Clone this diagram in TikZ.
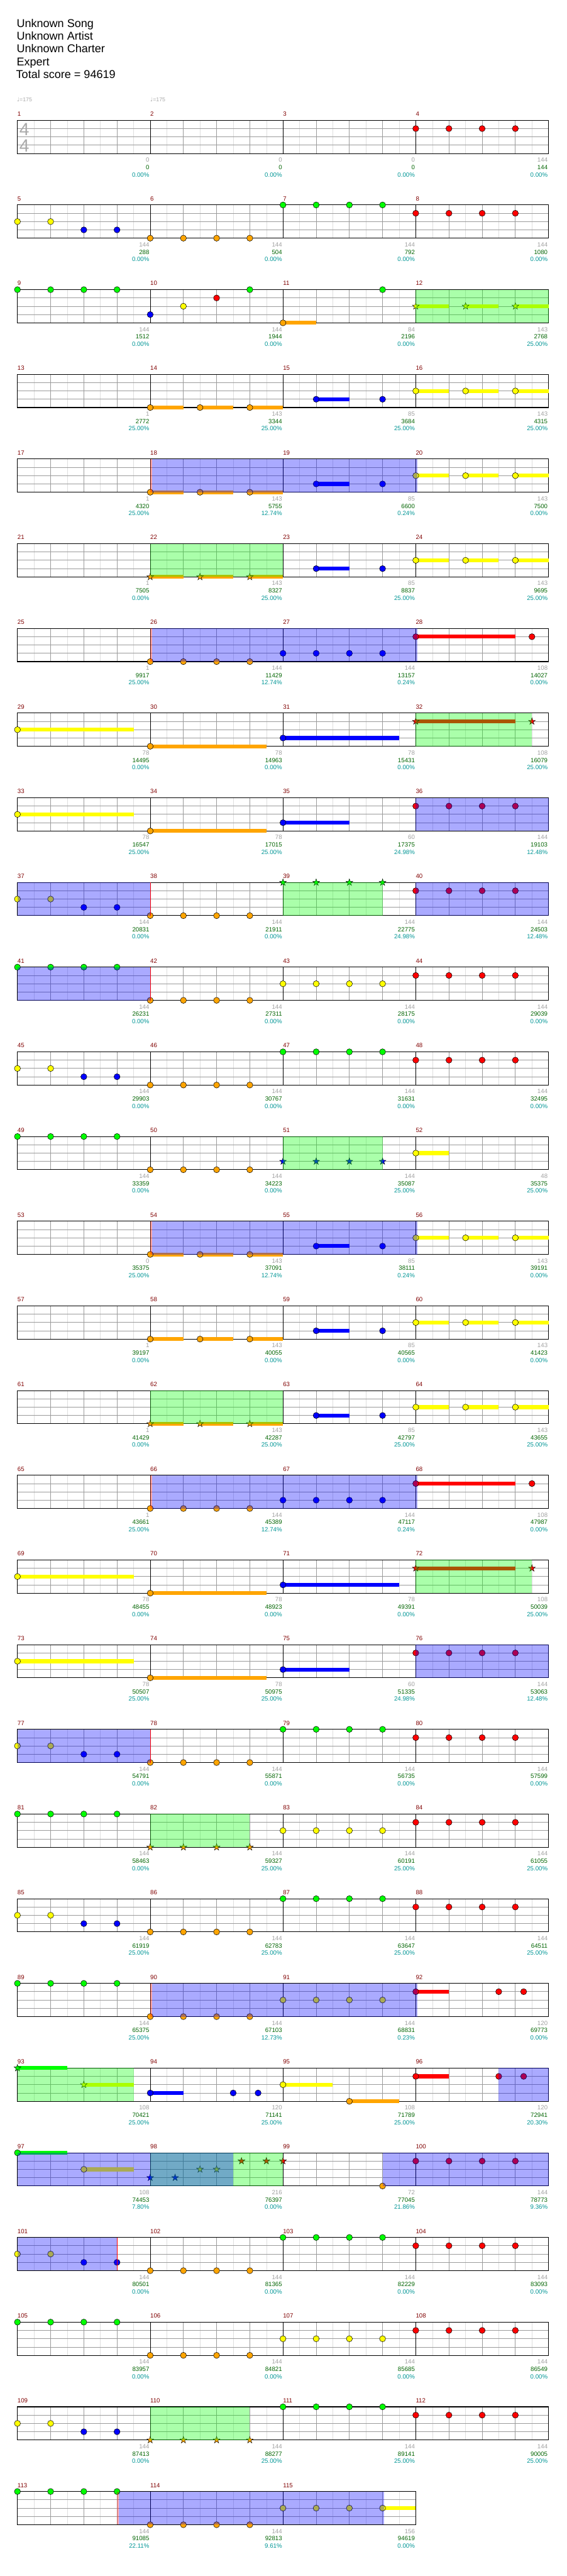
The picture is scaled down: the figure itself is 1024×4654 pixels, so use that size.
\documentclass[tikz,border=0pt]{standalone}
\usepackage{fontspec}
\setmainfont{Liberation Sans}
\newfontfamily\djv{DejaVu Sans}
\usetikzlibrary{shapes.geometric}
\definecolor{ng}{RGB}{0,255,0}
\definecolor{nr}{RGB}{255,0,0}
\definecolor{ny}{RGB}{255,255,0}
\definecolor{nb}{RGB}{0,0,255}
\definecolor{no}{RGB}{255,165,0}
\definecolor{gridg}{RGB}{155,155,155}
\definecolor{gridl}{RGB}{222,222,222}
\definecolor{mnumc}{RGB}{128,0,0}
\definecolor{txgray}{RGB}{160,160,160}
\definecolor{txgreen}{RGB}{0,100,0}
\definecolor{txteal}{RGB}{0,150,150}
\definecolor{sigc}{RGB}{170,170,170}
\newcounter{nc}
\tikzset{
  notec/.style={circle, draw=black, line width=0.6, inner sep=0, minimum size=11},
  notes/.style={star, star points=5, star point ratio=2.6, draw=black, line width=0.5, inner sep=0, minimum size=13},
  mnum/.style={anchor=base west, inner sep=0, text=mnumc, font=\fontsize{11}{11}\selectfont},
  lg/.style={anchor=base east, inner sep=0, text=txgray, font=\fontsize{11}{11}\selectfont},
  lgr/.style={anchor=base east, inner sep=0, text=txgreen, font=\fontsize{11}{11}\selectfont},
  lt/.style={anchor=base east, inner sep=0, text=txteal, font=\fontsize{11}{11}\selectfont},
  titl/.style={anchor=base west, inner sep=0, font=\fontsize{20.5}{20.5}\selectfont},
  tempo/.style={anchor=base west, inner sep=0, text=sigc, font=\fontsize{10}{10}\selectfont},
  tsig/.style={anchor=base west, inner sep=0, text=sigc, font=\fontsize{32}{32}\selectfont},
  spfill/.style={fill=ng, opacity=0.333},
  actfill/.style={fill=nb, opacity=0.333},
}
% row grid: #1 row, #2 number of measures
\newcommand\rowgrid[2]{%
  \pgfmathtruncatemacro\rgNB{4*#2}%
  \pgfmathtruncatemacro\rgNBm{4*#2-1}%
  \pgfmathtruncatemacro\rgNM{#2-1}%
  \foreach \k in {1,...,\rgNB} {\draw[gridl, line width=0.6] ({31.5+60*\k-30},{217.3+153*#1}) -- ++(0,60);}
  \foreach \k in {1,...,\rgNBm} {\draw[gridg, line width=0.8] ({31.5+60*\k},{217.3+153*#1}) -- ++(0,60);}
  \foreach \l in {1,2,3} {\draw[gridg, line width=1] (31.5,{217.3+153*#1+15*\l}) -- ({31.5+60*\rgNB},{217.3+153*#1+15*\l});}
  \foreach \k in {1,...,\rgNM} {\draw[black, line width=0.8] ({31.5+240*\k},{217.3+153*#1}) -- ++(0,60);}
  \draw[black, line width=1.2] (31.5,{217.3+153*#1}) rectangle ({31.5+60*\rgNB},{217.3+153*#1+60});
  \foreach \c in {0,...,\rgNM} {\pgfmathtruncatemacro\rgMM{4*#1+\c+1}%
    \node[mnum] (m\rgMM) at ({31.5+240*\c},{217.3+153*#1-7.5}) {\rgMM};}
}
\newcommand\labrow[2]{\foreach \la/\lb/\lc [count=\li from 0] in {#2} {
  \node[lg] (la-#1-\li) at ({31.5+240*\li+238.5},{217.3+153*#1+75.5}) {\la};
  \node[lgr] (lb-#1-\li) at ({31.5+240*\li+238.5},{217.3+153*#1+88.8}) {\lb};
  \node[lt] (lc-#1-\li) at ({31.5+240*\li+238.5},{217.3+153*#1+102}) {\lc\%};
}}
\newcommand\cnote[4]{\stepcounter{nc}\node[notec, fill=#4] (n\arabic{nc}) at ({31.5+60*(#2)},{217.3+153*#1+15*#3}) {};}
\newcommand\snote[4]{\stepcounter{nc}\node[notes, fill=#4] (n\arabic{nc}) at ({31.5+60*(#2)},{217.3+153*#1+15*#3}) {};}
\newcommand\csus[5]{\fill[#5] ({31.5+60*(#2)},{217.3+153*#1+15*#4-3.5}) rectangle ({31.5+60*(#3)},{217.3+153*#1+15*#4+3.5});}
\newcommand\spreg[3]{\fill[spfill] ({31.5+60*(#2)},{217.3+153*#1}) rectangle ({31.5+60*(#3)},{217.3+153*#1+60});}
\newcommand\actreg[3]{\fill[actfill] ({31.5+60*(#2)},{217.3+153*#1}) rectangle ({31.5+60*(#3)},{217.3+153*#1+60});}
\newcommand\actstart[2]{\fill[nr, opacity=0.333] ({31.5+60*(#2)},{217.3+153*#1}) rectangle ({31.5+60*(#2)+3},{217.3+153*#1+60});}
\newcommand\actend[2]{\draw[nr, line width=0.8] ({31.5+60*(#2)},{217.3+153*#1}) -- ({31.5+60*(#2)},{217.3+153*#1+60});}
\newcommand\fourn[4]{\foreach \q in {0,1,2,3} {\cnote{#1}{#2+\q}{#3}{#4}}}
\newcommand\fours[4]{\foreach \q in {0,1,2,3} {\snote{#1}{#2+\q}{#3}{#4}}}
\newcommand\yybb[2]{\cnote{#1}{#2}{2}{ny}\cnote{#1}{#2+1}{2}{ny}\cnote{#1}{#2+2}{3}{nb}\cnote{#1}{#2+3}{3}{nb}}
\newcommand\tripc[4]{\foreach \q in {0,1.5,3} {\csus{#1}{#2+\q}{#2+\q+1}{#3}{#4}\cnote{#1}{#2+\q}{#3}{#4}}}
\newcommand\trips[4]{\foreach \q in {0,1.5,3} {\csus{#1}{#2+\q}{#2+\q+1}{#3}{#4}\snote{#1}{#2+\q}{#3}{#4}}}
\newcommand\bluepair[1]{\csus{#1}{9}{10}{3}{nb}\cnote{#1}{9}{3}{nb}\cnote{#1}{11}{3}{nb}}
\newcommand\patA[1]{\tripc{#1}{4}{4}{no}\bluepair{#1}\tripc{#1}{12}{2}{ny}}
\newcommand\patAs[1]{\trips{#1}{4}{4}{no}\bluepair{#1}\tripc{#1}{12}{2}{ny}\spreg{#1}{4}{8}}
\newcommand\patB[1]{\fourn{#1}{4}{4}{no}\fourn{#1}{8}{3}{nb}\csus{#1}{12}{15}{1}{nr}\cnote{#1}{12}{1}{nr}\cnote{#1}{15.5}{1}{nr}\actstart{#1}{4}\actreg{#1}{4.05}{12.05}}
\newcommand\patC[1]{\csus{#1}{0}{3.5}{2}{ny}\cnote{#1}{0}{2}{ny}\csus{#1}{4}{7.5}{4}{no}\cnote{#1}{4}{4}{no}\csus{#1}{8}{11.5}{3}{nb}\cnote{#1}{8}{3}{nb}\csus{#1}{12}{15}{1}{nr}\snote{#1}{12}{1}{nr}\snote{#1}{15.5}{1}{nr}\spreg{#1}{12}{15.5}}
\newcommand\patD[1]{\csus{#1}{0}{3.5}{2}{ny}\cnote{#1}{0}{2}{ny}\csus{#1}{4}{7.5}{4}{no}\cnote{#1}{4}{4}{no}\csus{#1}{8}{10}{3}{nb}\cnote{#1}{8}{3}{nb}\fourn{#1}{12}{1}{nr}\actreg{#1}{12}{16}}
\begin{document}
\begin{tikzpicture}[x=1pt, y=-1pt]
\useasboundingbox (0,0) rectangle (1024,4654);
\fill[white] (0,0) rectangle (1024,4654);
% header
\node[titl] (t1) at (30,49.3) {Unknown Song};
\node[titl] (t2) at (30,72.3) {Unknown Artist};
\node[titl] (t3) at (30,95.3) {Unknown Charter};
\node[titl] (t4) at (30,118.3) {Expert};
\node[titl] (t5) at (29,141.5) {Total score = 94619};
\node[tempo] (tp1) at (30.5,183.3) {{\djv ♩}=175};
\node[tempo] (tp2) at (271.5,183.3) {{\djv ♩}=175};
% row 0
\rowgrid{0}{4}
\node[tsig] (ts1) at (35,245.3) {4};
\node[tsig] (ts2) at (35,274.3) {4};
\fourn{0}{12}{1}{nr}
\labrow{0}{0/0/0.00, 0/0/0.00, 0/0/0.00, 144/144/0.00}
% row 1
\rowgrid{1}{4}
\yybb{1}{0}\fourn{1}{4}{4}{no}\fourn{1}{8}{0}{ng}\fourn{1}{12}{1}{nr}
\labrow{1}{144/288/0.00, 144/504/0.00, 144/792/0.00, 144/1080/0.00}
% row 2
\rowgrid{2}{4}
\fourn{2}{0}{0}{ng}\cnote{2}{4}{3}{nb}\cnote{2}{5}{2}{ny}\cnote{2}{6}{1}{nr}\cnote{2}{7}{0}{ng}
\csus{2}{8}{9}{4}{no}\cnote{2}{8}{4}{no}\cnote{2}{11}{0}{ng}
\trips{2}{12}{2}{ny}\spreg{2}{12}{16}
\labrow{2}{144/1512/0.00, 144/1944/0.00, 84/2196/0.00, 143/2768/25.00}
% row 3
\rowgrid{3}{4}
\patA{3}
\labrow{3}{1/2772/25.00, 143/3344/25.00, 85/3684/25.00, 143/4315/25.00}
% row 4
\rowgrid{4}{4}
\patA{4}\actstart{4}{4}\actreg{4}{4.05}{12.05}
\labrow{4}{1/4320/25.00, 143/5755/12.74, 85/6600/0.24, 143/7500/0.00}
% row 5
\rowgrid{5}{4}
\patAs{5}
\labrow{5}{1/7505/0.00, 143/8327/25.00, 85/8837/25.00, 143/9695/25.00}
% row 6
\rowgrid{6}{4}
\patB{6}
\labrow{6}{1/9917/25.00, 144/11429/12.74, 144/13157/0.24, 108/14027/0.00}
% row 7
\rowgrid{7}{4}
\patC{7}
\labrow{7}{78/14495/0.00, 78/14963/0.00, 78/15431/0.00, 108/16079/25.00}
% row 8
\rowgrid{8}{4}
\patD{8}
\labrow{8}{78/16547/25.00, 78/17015/25.00, 60/17375/24.98, 144/19103/12.48}
% row 9
\rowgrid{9}{4}
\yybb{9}{0}\fourn{9}{4}{4}{no}\fours{9}{8}{0}{ng}\fourn{9}{12}{1}{nr}
\actreg{9}{0}{4}\actend{9}{4}\spreg{9}{8}{11}\actreg{9}{12}{16}
\labrow{9}{144/20831/0.00, 144/21911/0.00, 144/22775/24.98, 144/24503/12.48}
% row 10
\rowgrid{10}{4}
\fourn{10}{0}{0}{ng}\fourn{10}{4}{4}{no}\fourn{10}{8}{2}{ny}\fourn{10}{12}{1}{nr}
\actreg{10}{0}{4}\actend{10}{4}
\labrow{10}{144/26231/0.00, 144/27311/0.00, 144/28175/0.00, 144/29039/0.00}
% row 11
\rowgrid{11}{4}
\yybb{11}{0}\fourn{11}{4}{4}{no}\fourn{11}{8}{0}{ng}\fourn{11}{12}{1}{nr}
\labrow{11}{144/29903/0.00, 144/30767/0.00, 144/31631/0.00, 144/32495/0.00}
% row 12
\rowgrid{12}{4}
\fourn{12}{0}{0}{ng}\fourn{12}{4}{4}{no}\fours{12}{8}{3}{nb}\csus{12}{12}{13}{2}{ny}\cnote{12}{12}{2}{ny}
\spreg{12}{8}{11}
\labrow{12}{144/33359/0.00, 144/34223/0.00, 144/35087/25.00, 48/35375/25.00}
% row 13
\rowgrid{13}{4}
\patA{13}\actstart{13}{4}\actreg{13}{4.05}{12.05}
\labrow{13}{0/35375/25.00, 143/37091/12.74, 85/38111/0.24, 143/39191/0.00}
% row 14
\rowgrid{14}{4}
\patA{14}
\labrow{14}{1/39197/0.00, 143/40055/0.00, 85/40565/0.00, 143/41423/0.00}
% row 15
\rowgrid{15}{4}
\patAs{15}
\labrow{15}{1/41429/0.00, 143/42287/25.00, 85/42797/25.00, 143/43655/25.00}
% row 16
\rowgrid{16}{4}
\patB{16}
\labrow{16}{1/43661/25.00, 144/45389/12.74, 144/47117/0.24, 108/47987/0.00}
% row 17
\rowgrid{17}{4}
\patC{17}
\labrow{17}{78/48455/0.00, 78/48923/0.00, 78/49391/0.00, 108/50039/25.00}
% row 18
\rowgrid{18}{4}
\patD{18}
\labrow{18}{78/50507/25.00, 78/50975/25.00, 60/51335/24.98, 144/53063/12.48}
% row 19
\rowgrid{19}{4}
\yybb{19}{0}\fourn{19}{4}{4}{no}\fourn{19}{8}{0}{ng}\fourn{19}{12}{1}{nr}
\actreg{19}{0}{4}\actend{19}{4}
\labrow{19}{144/54791/0.00, 144/55871/0.00, 144/56735/0.00, 144/57599/0.00}
% row 20
\rowgrid{20}{4}
\fourn{20}{0}{0}{ng}\fours{20}{4}{4}{no}\fourn{20}{8}{2}{ny}\fourn{20}{12}{1}{nr}
\spreg{20}{4}{7}
\labrow{20}{144/58463/0.00, 144/59327/25.00, 144/60191/25.00, 144/61055/25.00}
% row 21
\rowgrid{21}{4}
\yybb{21}{0}\fourn{21}{4}{4}{no}\fourn{21}{8}{0}{ng}\fourn{21}{12}{1}{nr}
\labrow{21}{144/61919/25.00, 144/62783/25.00, 144/63647/25.00, 144/64511/25.00}
% row 22
\rowgrid{22}{4}
\fourn{22}{0}{0}{ng}\fourn{22}{4}{4}{no}\fourn{22}{8}{2}{ny}
\csus{22}{12}{13}{1}{nr}\cnote{22}{12}{1}{nr}\cnote{22}{14.5}{1}{nr}\cnote{22}{15.25}{1}{nr}
\actstart{22}{4}\actreg{22}{4.05}{12.05}
\labrow{22}{144/65375/25.00, 144/67103/12.73, 144/68831/0.23, 120/69773/0.00}
% row 23
\rowgrid{23}{4}
\csus{23}{0}{1.5}{0}{ng}\snote{23}{0}{0}{ng}
\csus{23}{2}{3.5}{2}{ny}\snote{23}{2}{2}{ny}
\csus{23}{4}{5}{3}{nb}\cnote{23}{4}{3}{nb}\cnote{23}{6.5}{3}{nb}\cnote{23}{7.25}{3}{nb}
\csus{23}{8}{9.5}{2}{ny}\cnote{23}{8}{2}{ny}
\csus{23}{10}{11.5}{4}{no}\cnote{23}{10}{4}{no}
\csus{23}{12}{13}{1}{nr}\cnote{23}{12}{1}{nr}\cnote{23}{14.5}{1}{nr}\cnote{23}{15.25}{1}{nr}
\spreg{23}{0}{3.5}\actreg{23}{14.5}{16}
\labrow{23}{108/70421/25.00, 120/71141/25.00, 108/71789/25.00, 120/72941/20.30}
% row 24
\rowgrid{24}{4}
\csus{24}{0}{1.5}{0}{ng}\cnote{24}{0}{0}{ng}
\csus{24}{2}{3.5}{2}{ny}\cnote{24}{2}{2}{ny}
\snote{24}{4}{3}{nb}\snote{24}{4.75}{3}{nb}\snote{24}{5.5}{2}{ny}\snote{24}{6}{2}{ny}
\snote{24}{6.75}{1}{nr}\snote{24}{7.5}{1}{nr}\snote{24}{8}{1}{nr}
\cnote{24}{11}{4}{no}\fourn{24}{12}{1}{nr}
\spreg{24}{4}{8}\actreg{24}{0}{6.5}\actreg{24}{11}{16}
\labrow{24}{108/74453/7.80, 216/76397/0.00, 72/77045/21.86, 144/78773/9.36}
% row 25
\rowgrid{25}{4}
\yybb{25}{0}\fourn{25}{4}{4}{no}\fourn{25}{8}{0}{ng}\fourn{25}{12}{1}{nr}
\actreg{25}{0}{3}\actend{25}{3}
\labrow{25}{144/80501/0.00, 144/81365/0.00, 144/82229/0.00, 144/83093/0.00}
% row 26
\rowgrid{26}{4}
\fourn{26}{0}{0}{ng}\fourn{26}{4}{4}{no}\fourn{26}{8}{2}{ny}\fourn{26}{12}{1}{nr}
\labrow{26}{144/83957/0.00, 144/84821/0.00, 144/85685/0.00, 144/86549/0.00}
% row 27
\rowgrid{27}{4}
\yybb{27}{0}\fours{27}{4}{4}{no}\fourn{27}{8}{0}{ng}\fourn{27}{12}{1}{nr}
\spreg{27}{4}{7}
\labrow{27}{144/87413/0.00, 144/88277/25.00, 144/89141/25.00, 144/90005/25.00}
% row 28
\rowgrid{28}{3}
\fourn{28}{0}{0}{ng}\fourn{28}{4}{4}{no}\csus{28}{11}{12}{2}{ny}\fourn{28}{8}{2}{ny}
\actstart{28}{3}\actreg{28}{3.05}{11.05}
\labrow{28}{144/91085/22.11, 144/92813/9.61, 156/94619/0.00}
\end{tikzpicture}
\end{document}
